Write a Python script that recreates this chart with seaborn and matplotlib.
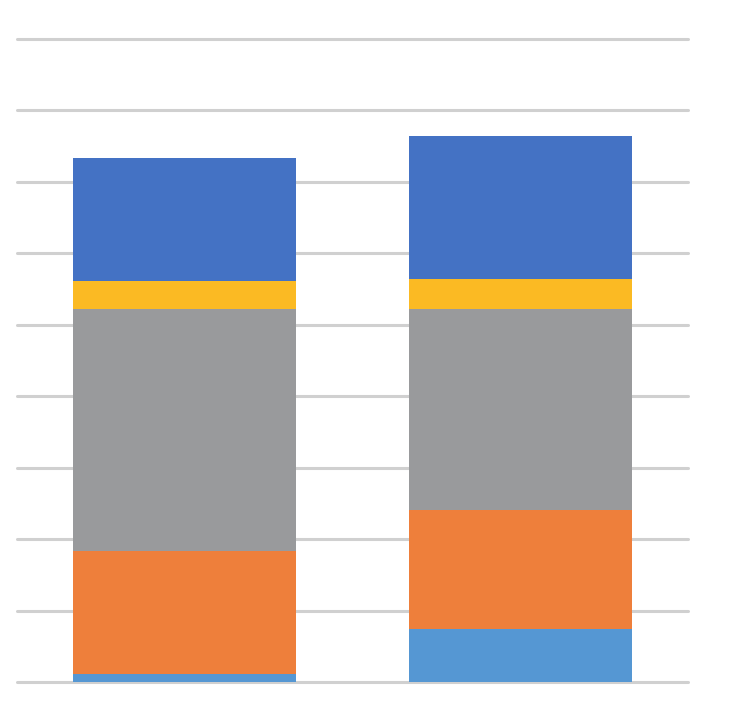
import matplotlib
matplotlib.use("Agg")
import matplotlib.pyplot as plt
import seaborn as sns
import numpy as np
import pandas as pd

categories = ["A", "B"]
series_names = ["S1", "S2", "S3", "S4", "S5"]
s1 = [0.11, 0.74]   # light blue (bottom)
s2 = [1.72, 1.67]   # orange
s3 = [3.39, 2.81]   # gray
s4 = [0.39, 0.42]   # yellow
s5 = [1.73, 2.00]   # dark blue (top)
colors = ["#5597D3", "#EE7F3B", "#999A9C", "#FBBA23", "#4472C4"]

series = [s1, s2, s3, s4, s5]
cum = np.cumsum(np.array(series), axis=0)

sns.set_theme(style="white")
fig = plt.figure(figsize=(7.44, 7.06), dpi=100)
ax = fig.add_axes([17 / 744, 24 / 706, (688 - 17) / 744, (682 - 39) / 706])

for i in range(len(series) - 1, -1, -1):
    df = pd.DataFrame({"cat": categories, "val": cum[i]})
    sns.barplot(data=df, x="cat", y="val", color=colors[i], width=0.665,
                saturation=1, ax=ax, zorder=2, linewidth=0)

ax.set_ylim(0, 9)
ax.set_xlim(-0.5, 1.5)
ax.set_yticks(np.arange(0, 10, 1))
ax.set_axisbelow(True)
ax.yaxis.grid(True, color="#D0D0D0", linewidth=2.2)
ax.xaxis.grid(False)
for gl in ax.yaxis.get_gridlines():
    gl.set_clip_on(False)
for sp in ax.spines.values():
    sp.set_visible(False)
ax.tick_params(left=False, bottom=False, labelleft=False, labelbottom=False)
ax.set_xlabel("")
ax.set_ylabel("")
fig.savefig("out.png", dpi=100, facecolor="white")
